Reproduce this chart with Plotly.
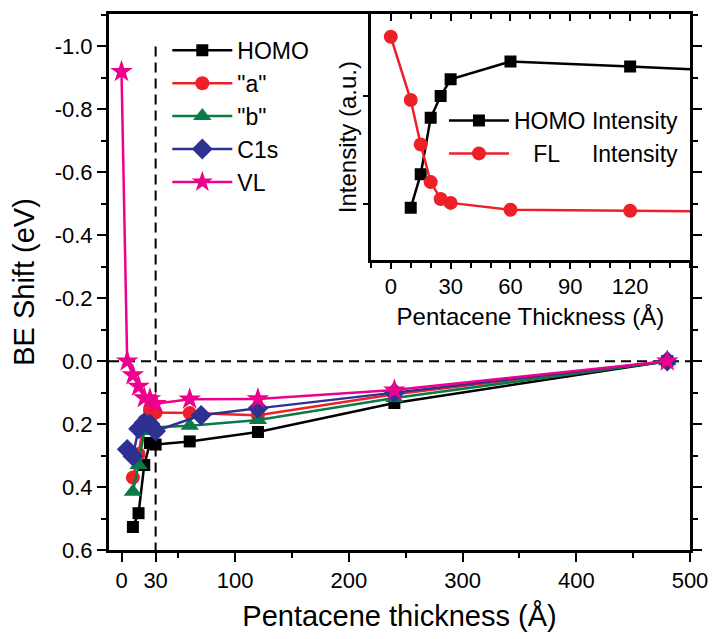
import plotly.graph_objects as go

# ---------------- data (main panel) ----------------
homo_x = [10, 15, 20, 25, 30, 60, 120, 240, 480]
homo_y = [0.527, 0.483, 0.33, 0.26, 0.265, 0.255, 0.225, 0.133, 0.0]
a_x = [10, 15, 20, 25, 30, 60, 120, 240, 480]
a_y = [0.37, 0.295, 0.19, 0.155, 0.163, 0.165, 0.172, 0.105, 0.0]
b_x = [10, 15, 20, 25, 30, 60, 120, 240, 480]
b_y = [0.415, 0.33, 0.222, 0.21, 0.21, 0.205, 0.187, 0.117, 0.0]
c1s_x = [5, 10, 15, 20, 25, 30, 70, 120, 240, 480]
c1s_y = [0.28, 0.302, 0.215, 0.195, 0.20, 0.222, 0.172, 0.15, 0.10, 0.0]
vl_x = [0, 5, 10, 15, 20, 25, 30, 60, 120, 240, 480]
vl_y = [-0.92, 0.0, 0.044, 0.08, 0.117, 0.12, 0.135, 0.121, 0.12, 0.092, 0.0]

main_xtick_vals = [0, 30, 100, 200, 300, 400, 500]
main_xtick_text = ["0", "30", "100", "200", "300", "400", "500"]
main_ytick_vals = [-1.0, -0.8, -0.6, -0.4, -0.2, 0.0, 0.2, 0.4, 0.6]
main_ytick_text = ["-1.0", "-0.8", "-0.6", "-0.4", "-0.2", "0.0", "0.2", "0.4", "0.6"]

# ---------------- data (inset) ----------------
ins_homo_x = [10, 15, 20, 25, 30, 60, 120, 240]
ins_homo_y = [53, 87, 144, 166, 183, 201, 196, 185]
ins_fl_x = [0, 10, 15, 20, 25, 30, 60, 120, 240]
ins_fl_y = [226, 162, 117, 79, 62, 58, 51, 50, 48]
ins_xtick_vals = [0, 30, 60, 90, 120]

FONT = "Arial, Liberation Sans, sans-serif"
BLACK = "#000000"
RED = "#EE2027"
GREEN = "#0A7A46"
BLUE = "#2E3192"
MAGENTA = "#EC008C"
NB = "\u00a0"

fig = go.Figure()

def add_main(x, y, name, color, symbol, size):
    fig.add_trace(go.Scatter(
        x=x, y=y, name=name, mode="lines+markers",
        line=dict(color=color, width=2.5),
        marker=dict(symbol=symbol, size=size, color=color, line=dict(width=0)),
        xaxis="x", yaxis="y", legend="legend", cliponaxis=False))

add_main(homo_x, homo_y, "HOMO", BLACK, "square", 12)
add_main(a_x, a_y, "\"a\"", RED, "circle", 14)
add_main(b_x, b_y, "\"b\"", GREEN, "triangle-up", 16)
add_main(c1s_x, c1s_y, "C1s", BLUE, "diamond", 16)
add_main(vl_x, vl_y, "VL", MAGENTA, "star", 17)

fig.add_trace(go.Scatter(
    x=ins_homo_x, y=ins_homo_y, name="HOMO Intensity", mode="lines+markers",
    line=dict(color=BLACK, width=2.5),
    marker=dict(symbol="square", size=12, color=BLACK, line=dict(width=0)),
    xaxis="x2", yaxis="y2", legend="legend2"))
fig.add_trace(go.Scatter(
    x=ins_fl_x, y=ins_fl_y,
    name=NB * 3 + "FL" + NB * 5 + "Intensity",
    mode="lines+markers",
    line=dict(color=RED, width=2.5),
    marker=dict(symbol="circle", size=14, color=RED, line=dict(width=0)),
    xaxis="x2", yaxis="y2", legend="legend2"))
# invisible trace for the inward top tick axis of the inset
fig.add_trace(go.Scatter(x=[None], y=[None], xaxis="x3", yaxis="y2",
                         showlegend=False, hoverinfo="skip"))

# dashed reference lines
fig.add_shape(type="line", xref="x", yref="y", x0=-11, x1=500, y0=0, y1=0,
              line=dict(color=BLACK, width=2, dash="10px,6px"), layer="below")
fig.add_shape(type="line", xref="x", yref="y", x0=30, x1=30, y0=-1.0, y1=0.6,
              line=dict(color=BLACK, width=2, dash="10px,6px"), layer="below")

ins_dom_x = [(374 - 109) / 588, 1.0]
ins_dom_y = [(553 - 260) / 542, 1.0]

fig.update_layout(
    width=719, height=639,
    margin=dict(l=109, r=22, t=11, b=86),
    plot_bgcolor="white", paper_bgcolor="white",
    font=dict(family=FONT, color="black", size=22),
    xaxis=dict(
        domain=[0, 1], range=[-11, 500], anchor="y",
        tickmode="array", tickvals=main_xtick_vals, ticktext=main_xtick_text,
        ticks="outside", ticklen=9, tickwidth=2, tickcolor="black",
        minor=dict(tickvals=[50, 150, 250, 350, 450], ticks="outside", ticklen=5,
                   tickwidth=2, tickcolor="black"),
        showline=True, linewidth=3, linecolor="black", mirror=True,
        showgrid=False, zeroline=False,
        tickfont=dict(size=22),
        title=dict(text="Pentacene thickness (Å)", font=dict(size=29), standoff=14),
    ),
    yaxis=dict(
        domain=[0, 1], range=[0.6, -1.103], anchor="x",
        tickmode="array", tickvals=main_ytick_vals, ticktext=main_ytick_text,
        ticks="outside", ticklen=9, tickwidth=2, tickcolor="black",
        minor=dict(dtick=0.1, tick0=0, ticks="outside", ticklen=5,
                   tickwidth=2, tickcolor="black"),
        showline=True, linewidth=3, linecolor="black", mirror="ticks",
        showgrid=False, zeroline=False,
        tickfont=dict(size=22),
        title=dict(text="BE Shift (eV)", font=dict(size=29), standoff=12),
    ),
    xaxis2=dict(
        domain=ins_dom_x, range=[-10, 150], anchor="y2",
        tickmode="array", tickvals=ins_xtick_vals,
        ticks="outside", ticklen=6, tickwidth=2, tickcolor="black",
        minor=dict(dtick=10, tick0=0, ticks="outside", ticklen=5,
                   tickwidth=2, tickcolor="black"),
        showline=True, linewidth=2.5, linecolor="black", mirror=True,
        showgrid=False, zeroline=False,
        tickfont=dict(size=22), ticklabelstandoff=-1,
        title=dict(text="Pentacene Thickness (Å)", font=dict(size=24), standoff=10),
    ),
    xaxis3=dict(
        domain=ins_dom_x, range=[-10, 150], anchor="y2", overlaying="x2", side="top",
        tickmode="array", tickvals=ins_xtick_vals, showticklabels=False,
        ticks="inside", ticklen=7, tickwidth=2, tickcolor="black",
        minor=dict(dtick=10, tick0=0, ticks="inside", ticklen=5,
                   tickwidth=2, tickcolor="black"),
        showline=False, showgrid=False, zeroline=False,
    ),
    yaxis2=dict(
        domain=ins_dom_y, range=[0, 249], anchor="x2",
        tickmode="array", tickvals=[57, 166], showticklabels=False,
        ticks="outside", ticklen=5, tickwidth=2, tickcolor="black",
        showline=True, linewidth=2.5, linecolor="black", mirror=True,
        showgrid=False, zeroline=False,
        title=dict(text="Intensity (a.u.)", font=dict(size=24), standoff=0),
    ),
    legend=dict(
        x=(168 - 109) / 588, y=(553 - 26) / 542, xanchor="left", yanchor="top",
        bgcolor="rgba(0,0,0,0)", borderwidth=0, itemwidth=60,
        font=dict(size=23, family=FONT), tracegroupgap=0,
    ),
    legend2=dict(
        x=(448 - 109) / 588, y=(553 - 97) / 542, xanchor="left", yanchor="top",
        bgcolor="rgba(0,0,0,0)", borderwidth=0, itemwidth=60,
        font=dict(size=23, family=FONT), tracegroupgap=0,
    ),
    showlegend=True,
)

fig.write_html("out.html")
